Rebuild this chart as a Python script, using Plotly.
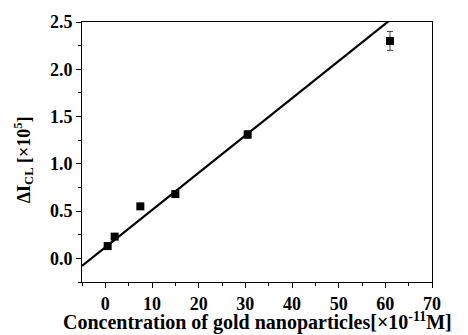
import plotly.graph_objects as go

conc = [0.5, 2.0, 7.5, 15.0, 30.5, 61.0]
dI = [0.13, 0.23, 0.55, 0.68, 1.31, 2.30]
err = [0.02, 0.02, 0.02, 0.02, 0.04, 0.10]
fit_slope = 0.0394
fit_intercept = 0.117
fit_x = [-5, 70]
fit_y = [fit_intercept + fit_slope * v for v in fit_x]

x_title = "Concentration of gold nanoparticles[×10<sup>-11</sup>M]"
y_title = "ΔI<sub>CL</sub> [×10<sup>5</sup>]"

fig = go.Figure()
fig.add_trace(go.Scatter(x=fit_x, y=fit_y, mode="lines",
                         line=dict(color="black", width=2.2), showlegend=False))
fig.add_trace(go.Scatter(x=conc, y=dI, mode="markers",
                         marker=dict(symbol="square", size=8, color="black"),
                         error_y=dict(type="data", array=err, color="#444", thickness=1, width=3),
                         showlegend=False))

tickfont = dict(family="Liberation Serif", size=18, color="black", weight="bold")
axis_common = dict(showgrid=False, zeroline=False, showline=True, linecolor="black",
                   linewidth=1, mirror=True, ticks="outside", ticklen=5, tickcolor="black",
                   tickfont=tickfont, automargin=False)
fig.update_xaxes(range=[-5, 70], dtick=10, tick0=0,
                 minor=dict(dtick=5, ticks="outside", ticklen=3, tickcolor="black"),
                 **axis_common)
fig.update_yaxes(range=[-0.25, 2.5], dtick=0.5, tick0=0, tickformat=".1f",
                 minor=dict(dtick=0.25, ticks="outside", ticklen=3, tickcolor="black"),
                 **axis_common)
fig.add_annotation(text=x_title, xref="paper", yref="paper", x=0.5, y=-0.15,
                   xanchor="center", yanchor="middle", showarrow=False,
                   font=dict(family="Liberation Serif", size=20, color="black", weight="bold"))
fig.add_annotation(text=y_title, xref="paper", yref="paper", x=-0.168, y=0.469,
                   xanchor="center", yanchor="middle", showarrow=False, textangle=-90,
                   font=dict(family="Liberation Serif", size=18, color="black", weight="bold"))
# page body has an 8px margin: shrink canvas and margins to compensate
fig.update_layout(width=460, height=327, margin=dict(l=74, r=36, t=14, b=53, autoexpand=False),
                  plot_bgcolor="white", paper_bgcolor="white",
                  font=dict(family="Liberation Serif", size=16, color="black"))
fig.write_html("out.html")
